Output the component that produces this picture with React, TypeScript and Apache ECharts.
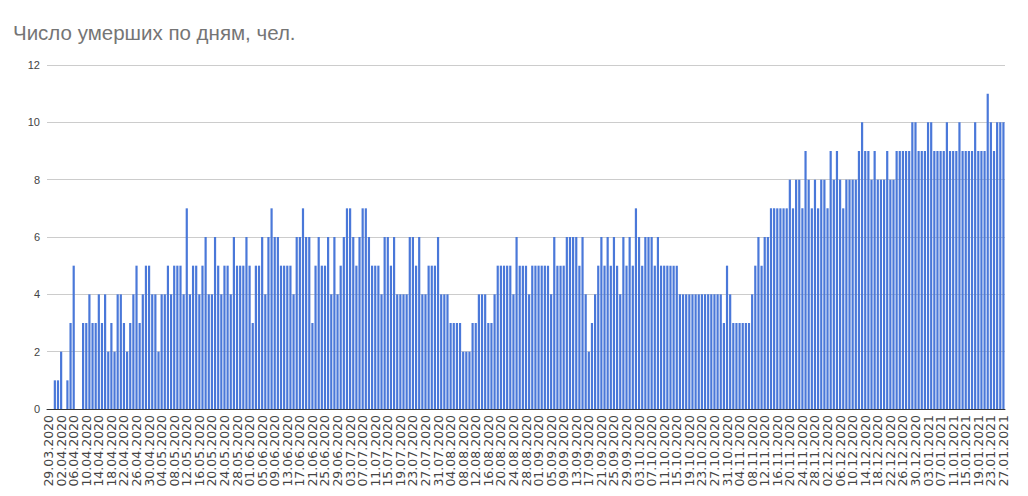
import React, { useEffect, useRef } from "react";
import * as echarts from "echarts";

// Daily deaths, 29.03.2020 – 27.01.2021
const mar2020 = [0, 0, 1];
const apr2020 = [1, 2, 0, 1, 3, 5, 0, 0, 3, 3, 4, 3, 3, 4, 3, 4, 2, 3, 2, 4, 4, 3, 2, 3, 4, 5, 3, 4, 5, 5];
const may2020 = [4, 4, 2, 4, 4, 5, 4, 5, 5, 5, 4, 7, 4, 5, 5, 4, 5, 6, 4, 4, 6, 5, 4, 5, 5, 4, 6, 5, 5, 5, 6];
const jun2020 = [5, 3, 5, 5, 6, 4, 6, 7, 6, 6, 5, 5, 5, 5, 4, 6, 6, 7, 6, 6, 3, 5, 6, 5, 5, 6, 4, 6, 4, 5];
const jul2020 = [6, 7, 7, 6, 5, 6, 7, 7, 6, 5, 5, 5, 4, 6, 6, 5, 6, 4, 4, 4, 4, 6, 6, 5, 6, 4, 4, 5, 5, 5, 6];
const aug2020 = [4, 4, 4, 3, 3, 3, 3, 2, 2, 2, 3, 3, 4, 4, 4, 3, 3, 4, 5, 5, 5, 5, 5, 4, 6, 5, 5, 5, 4, 5, 5];
const sep2020 = [5, 5, 5, 5, 4, 6, 5, 5, 5, 6, 6, 6, 6, 5, 6, 4, 2, 3, 4, 5, 6, 5, 6, 5, 6, 5, 4, 6, 5, 6];
const oct2020 = [5, 7, 6, 5, 6, 6, 6, 5, 6, 5, 5, 5, 5, 5, 5, 4, 4, 4, 4, 4, 4, 4, 4, 4, 4, 4, 4, 4, 4, 3, 5];
const nov2020 = [4, 3, 3, 3, 3, 3, 3, 4, 5, 6, 5, 6, 6, 7, 7, 7, 7, 7, 7, 8, 7, 8, 8, 7, 9, 8, 7, 8, 7, 8];
const dec2020 = [8, 7, 9, 8, 9, 8, 7, 8, 8, 8, 8, 9, 10, 9, 9, 8, 9, 8, 8, 8, 9, 8, 8, 9, 9, 9, 9, 9, 10, 10, 9];
const jan2021 = [9, 9, 10, 10, 9, 9, 9, 9, 10, 9, 9, 9, 10, 9, 9, 9, 9, 10, 9, 9, 9, 11, 10, 9, 10, 10, 10];

const monthBlocks: { year: number; month: number; firstDay: number; values: number[] }[] = [
  { year: 2020, month: 3, firstDay: 29, values: mar2020 },
  { year: 2020, month: 4, firstDay: 1, values: apr2020 },
  { year: 2020, month: 5, firstDay: 1, values: may2020 },
  { year: 2020, month: 6, firstDay: 1, values: jun2020 },
  { year: 2020, month: 7, firstDay: 1, values: jul2020 },
  { year: 2020, month: 8, firstDay: 1, values: aug2020 },
  { year: 2020, month: 9, firstDay: 1, values: sep2020 },
  { year: 2020, month: 10, firstDay: 1, values: oct2020 },
  { year: 2020, month: 11, firstDay: 1, values: nov2020 },
  { year: 2020, month: 12, firstDay: 1, values: dec2020 },
  { year: 2021, month: 1, firstDay: 1, values: jan2021 },
];

const pad = (n: number) => (n < 10 ? "0" + n : "" + n);
const dates: string[] = [];
const deaths: number[] = [];
monthBlocks.forEach((b) => {
  b.values.forEach((v, k) => {
    dates.push(`${pad(b.firstDay + k)}.${pad(b.month)}.${b.year}`);
    deaths.push(v);
  });
});

const yTicks = { min: 0, max: 12, interval: 2 };
const title = "Число умерших по дням, чел.";

const labelStyle = {
  rotate: 90,
  margin: 6,
  hideOverlap: false,
  fontFamily: "'DejaVu Sans', sans-serif",
  fontSize: 12.5,
  color: "#444444",
};

export default function App() {
  const ref = useRef<HTMLDivElement>(null);
  useEffect(() => {
    document.body.style.margin = "0";
    const chart = echarts.init(ref.current!, null, { renderer: "svg" });
    chart.setOption({
      animation: false,
      backgroundColor: "#ffffff",
      title: {
        text: title,
        left: 8,
        top: 17,
        textStyle: {
          fontFamily: "Arial, 'Liberation Sans', sans-serif",
          fontSize: 20.5,
          fontWeight: "normal",
          color: "#757575",
        },
      },
      grid: { left: 47, right: 23, top: 65, bottom: 87, containLabel: false },
      xAxis: [
        {
          type: "category",
          data: dates,
          position: "bottom",
          axisLine: { lineStyle: { color: "#333333", width: 1 } },
          axisTick: { show: false },
          axisLabel: { ...labelStyle, interval: (i: number) => i % 8 === 0 },
        },
        {
          type: "category",
          data: dates,
          position: "bottom",
          offset: 0,
          axisLine: { show: false },
          axisTick: { show: false },
          axisLabel: { ...labelStyle, interval: (i: number) => i % 8 === 4 },
        },
      ],
      yAxis: {
        type: "value",
        min: yTicks.min,
        max: yTicks.max,
        interval: yTicks.interval,
        axisLine: { show: false },
        axisTick: { show: false },
        splitLine: { lineStyle: { color: "#cccccc", width: 1 } },
        axisLabel: {
          margin: 7,
          fontFamily: "Arial, 'Liberation Sans', sans-serif",
          fontSize: 11,
          color: "#444444",
        },
      },
      series: [
        {
          type: "bar",
          xAxisIndex: 0,
          data: deaths,
          barCategoryGap: "30%",
          itemStyle: { color: "#4a78d9" },
        },
      ],
    });
    return () => chart.dispose();
  }, []);
  return <div ref={ref} style={{ width: 1028, height: 496 }} />;
}
